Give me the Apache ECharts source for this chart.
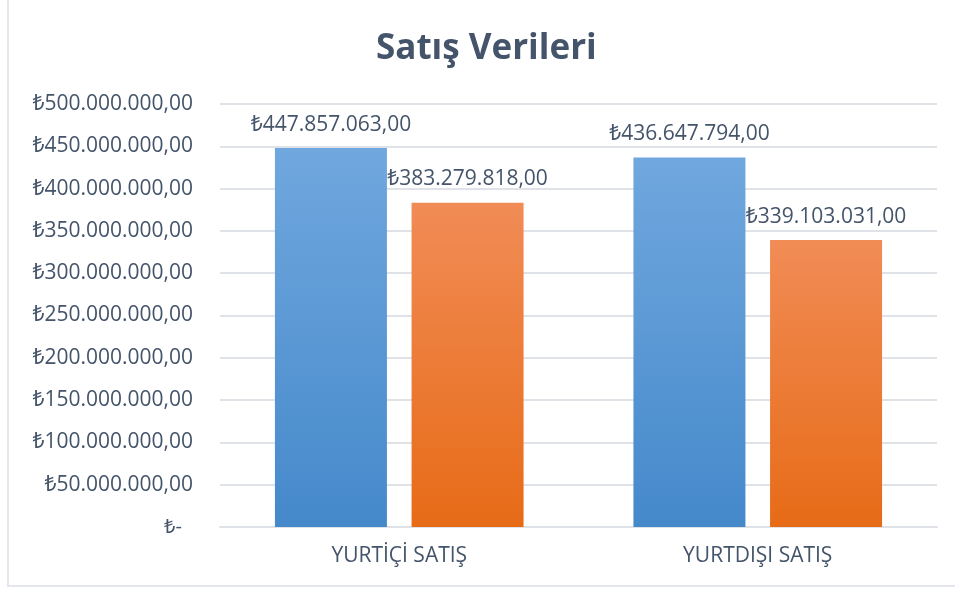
<!DOCTYPE html>
<html>
<head>
<meta charset="utf-8">
<script src="https://cdn.jsdelivr.net/npm/echarts@6/dist/echarts.min.js"></script>
<style>
  html, body { margin: 0; padding: 0; background: #fff; }
  #chart { width: 955px; height: 591px; }
  #frame { position: absolute; left: 7px; top: -2px; width: 960px; height: 589px; border: 2px solid #e3e6ea; box-sizing: border-box; pointer-events: none; }
</style>
</head>
<body>
<div id="chart"></div>
<div id="frame"></div>
<script>
var categories = ['YURTİÇİ SATIŞ', 'YURTDIŞI SATIŞ']
var seriesA = [447857063, 436647794]
var seriesB = [383279818, 339103031]
var yTicks = [0, 50000000, 100000000, 150000000, 200000000, 250000000, 300000000, 350000000, 400000000, 450000000, 500000000]

var textColor = '#44546a'
var fontFamily = '"Open Sans", "Noto Sans", sans-serif'

function tl(v) {
  var parts = v.toFixed(2).split('.')
  var intPart = parts[0].replace(/\B(?=(\d{3})+(?!\d))/g, '.')
  return '₺' + intPart + ',' + parts[1]
}

var chart = echarts.init(document.getElementById('chart'))
var option = {
  backgroundColor: '#fff',
  animation: false,
  title: {
    text: 'Satış Verileri',
    left: 371,
    top: 27,
    textStyle: {
      color: textColor,
      fontSize: 35,
      fontWeight: 'bold',
      fontFamily: fontFamily,
    },
  },
  grid: {
    top: 104,
    bottom: 64,
    left: 220,
    right: 18,
    containLabel: false,
  },
  xAxis: {
    type: 'category',
    data: categories,
    axisLine: { show: true, lineStyle: { color: '#dfe3e8', width: 2 } },
    axisTick: { show: false },
    axisLabel: {
      color: textColor,
      fontSize: 21,
      fontFamily: fontFamily,
      margin: 19,
    },
  },
  yAxis: {
    type: 'value',
    min: yTicks[0],
    max: yTicks[yTicks.length - 1],
    interval: yTicks[1] - yTicks[0],
    axisLine: { show: false },
    axisTick: { show: false },
    splitLine: { lineStyle: { color: '#dfe3e8', width: 2 } },
    axisLabel: {
      color: textColor,
      fontSize: 21,
      fontFamily: fontFamily,
      margin: 27,
      formatter: function (v) {
        if (v === 0) return '{z|₺-}'
        return tl(v)
      },
      rich: {
        z: { color: textColor, fontSize: 20, fontFamily: fontFamily, padding: [0, 11, 0, 0] },
      },
    },
  },
  series: [
    {
      name: 'A',
      type: 'bar',
      data: seriesA,
      barWidth: 112,
      barGap: '22%',
      itemStyle: {
        color: new echarts.graphic.LinearGradient(0, 0, 0, 1, [
          { offset: 0, color: '#70a7de' },
          { offset: 1, color: '#4589cb' },
        ]),
      },
      label: {
        show: true,
        position: 'top',
        distance: 13,
        color: textColor,
        fontSize: 21,
        fontFamily: fontFamily,
        formatter: function (p) { return tl(p.value) },
      },
    },
    {
      name: 'B',
      type: 'bar',
      data: seriesB,
      barWidth: 112,
      itemStyle: {
        color: new echarts.graphic.LinearGradient(0, 0, 0, 1, [
          { offset: 0, color: '#f18c56' },
          { offset: 1, color: '#e76b17' },
        ]),
      },
      label: {
        show: true,
        position: 'top',
        distance: 13,
        color: textColor,
        fontSize: 21,
        fontFamily: fontFamily,
        formatter: function (p) { return tl(p.value) },
      },
    },
  ],
}
chart.setOption(option)
</script>
</body>
</html>
